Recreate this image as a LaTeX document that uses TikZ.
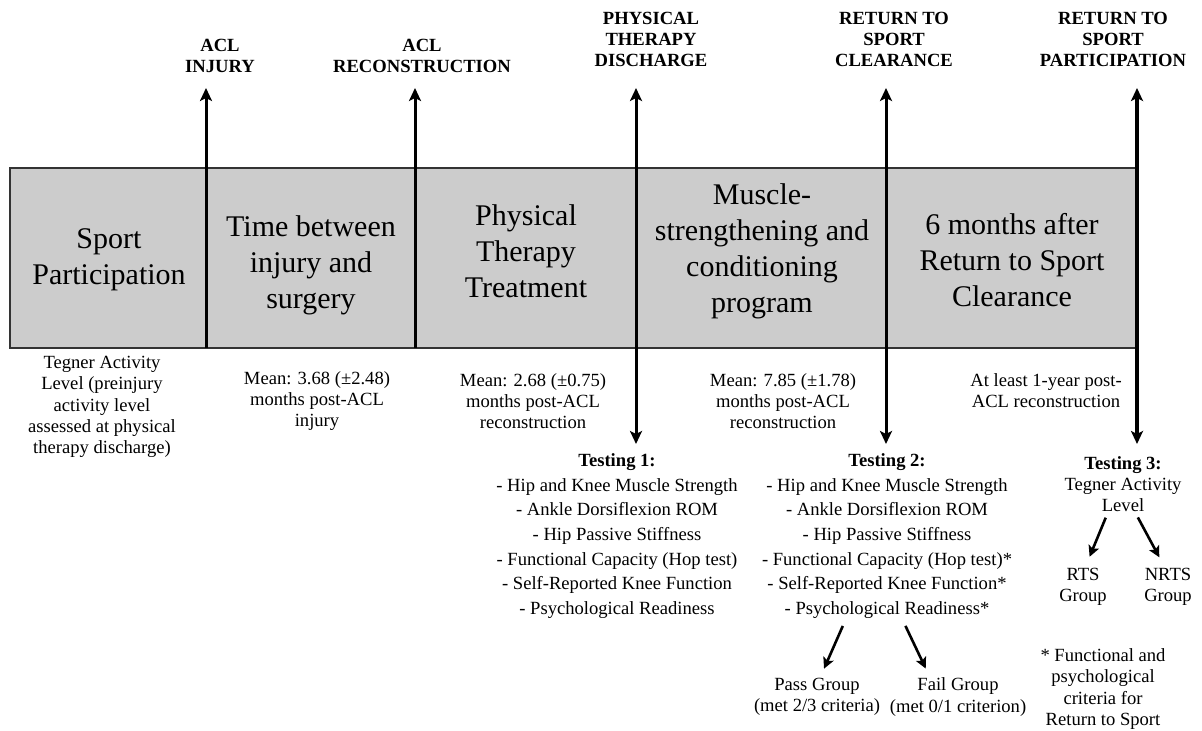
\documentclass[tikz,border=0pt]{standalone}
\usepackage{fontspec}
\setmainfont{Liberation Serif}
\usepackage{xcolor}
\usepackage{tikz}
\usetikzlibrary{arrows.meta, positioning}

\begin{document}
\begin{tikzpicture}[
                x=0.5pt, y=-0.5pt,
                phase/.style={align=center, inner sep=0pt, font=\fontsize{15}{18}\selectfont},
                event/.style={align=center, inner sep=0pt, font=\fontsize{9.3}{10.5}\selectfont\bfseries},
                note/.style={align=center, inner sep=0pt, font=\fontsize{9.3}{10.6}\selectfont},
                testlist/.style={align=center, inner sep=0pt, font=\fontsize{9.3}{12.3}\selectfont},
                tick/.style={line width=1.5pt, -{Stealth[length=6.5pt, width=6pt, inset=1.5pt]}},
                ticktwo/.style={line width=1.5pt, {Stealth[length=6.5pt, width=6pt, inset=1.5pt]}-{Stealth[length=6.5pt, width=6pt, inset=1.5pt]}},
                split/.style={line width=1.3pt, -{Stealth[length=5.5pt, width=5.5pt, inset=1.2pt]}}
            ]
                \useasboundingbox (0,0) rectangle (1202,731);

                % Timeline bar
                \draw[draw=black!80, line width=0.8pt, fill=gray!40] (10,168) rectangle (1137,348);

                % Phases
                \node[phase] (sport) at (109,260) {Sport\\Participation};
                \node[phase] (wait) at (311,265) {Time between\\injury and\\surgery};
                \node[phase] (pt) at (526,251) {Physical\\Therapy\\Treatment};
                \node[phase] (msc) at (762,251) {Muscle-\\strengthening and\\conditioning\\program};
                \node[phase] (six) at (1012,260) {6 months after\\Return to Sport\\Clearance};

                % Events
                \node[event] (acl) at (220,56) {ACL\\INJURY};
                \node[event] (rec) at (422,56) {ACL\\RECONSTRUCTION};
                \node[event] (ptd) at (651,39) {PHYSICAL\\THERAPY\\DISCHARGE};
                \node[event] (rtsc) at (894,39) {RETURN TO\\SPORT\\CLEARANCE};
                \node[event] (rtsp) at (1113,39) {RETURN TO\\SPORT\\PARTICIPATION};

                \coordinate (t1) at (206,88);  \coordinate (b1) at (206,348);
                \coordinate (t2) at (415,88);  \coordinate (b2) at (415,348);
                \coordinate (t3) at (636,88);  \coordinate (b3) at (636,444);
                \coordinate (t4) at (886,88);  \coordinate (b4) at (886,444);
                \coordinate (t5) at (1137,88); \coordinate (b5) at (1137,444);

                \draw[tick] (b1) -- (t1);
                \draw[tick] (b2) -- (t2);
                \draw[ticktwo] (b3) -- (t3);
                \draw[ticktwo] (b4) -- (t4);
                \draw[ticktwo, line width=2.3pt] (b5) -- (t5);

                % Durations
                \node[note] (tegner0) at (102,407) {Tegner Activity\\Level (preinjury\\activity level\\assessed at physical\\therapy discharge)};
                \node[note] (mean1) at (317,401) {Mean: 3.68 (±2.48)\\months post-ACL\\injury};
                \node[note] (mean2) at (533,401) {Mean: 2.68 (±0.75)\\months post-ACL\\reconstruction};
                \node[note] (mean3) at (783,401) {Mean: 7.85 (±1.78)\\months post-ACL\\reconstruction};
                \node[note] (atleast) at (1046,391) {At least 1-year post-\\ACL reconstruction};

                % Testing
                \node[testlist] (test1) at (617,536) {\textbf{Testing 1:}\\- Hip and Knee Muscle Strength\\- Ankle Dorsiflexion ROM\\- Hip Passive Stiffness\\- Functional Capacity (Hop test)\\- Self-Reported Knee Function\\- Psychological Readiness};
                \node[testlist] (test2) at (887,536) {\textbf{Testing 2:}\\- Hip and Knee Muscle Strength\\- Ankle Dorsiflexion ROM\\- Hip Passive Stiffness\\- Functional Capacity (Hop test)*\\- Self-Reported Knee Function*\\- Psychological Readiness*};
                \node[note] (test3) at (1123,484) {\textbf{Testing 3:}\\Tegner Activity\\Level};

                % Groups
                \node[note] (rts) at (1083,587) {RTS\\Group};
                \node[note] (nrts) at (1168,587) {NRTS\\Group};
                \node[note] (pass) at (817,697) {Pass Group\\(met 2/3 criteria)};
                \node[note] (fail) at (958,697) {Fail Group\\(met 0/1 criterion)};
                \node[note] (foot) at (1103,689) {* Functional and\\psychological\\criteria for\\Return to Sport};

                \draw[split, shorten <=3pt, shorten >=6pt] ([xshift=-7.5pt]test3.south) -- ([xshift=1pt]rts.north);
                \draw[split, shorten <=3pt, shorten >=6pt] ([xshift=6pt]test3.south) -- ([xshift=-1.5pt]nrts.north);
                \draw[split, shorten <=4pt, shorten >=5pt] ([xshift=-20.5pt]test2.south) -- ([xshift=1.5pt]pass.north);
                \draw[split, shorten <=4pt, shorten >=5pt] ([xshift=7.5pt]test2.south) -- ([xshift=-14pt]fail.north);
            \end{tikzpicture}
\end{document}
